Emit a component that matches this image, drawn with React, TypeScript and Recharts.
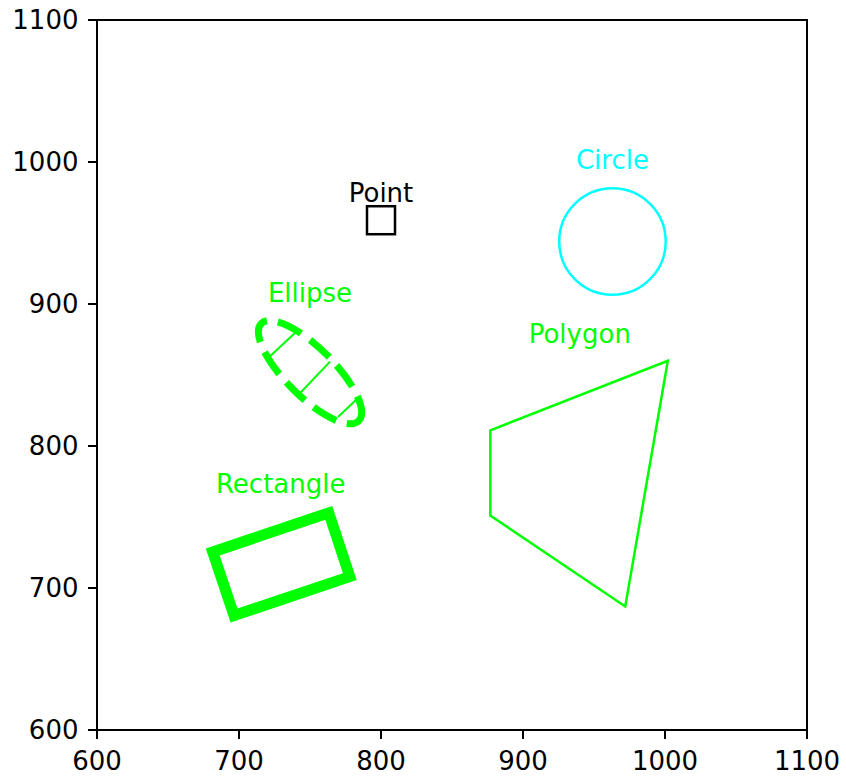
import React from 'react';
import { ComposedChart, Scatter, XAxis, YAxis, ReferenceArea } from 'recharts';

// axis ticks
const X_TICKS = [600, 700, 800, 900, 1000, 1100];
const Y_TICKS = [600, 700, 800, 900, 1000, 1100];

// shapes, data coordinates
const pointPts = [{ x: 800, y: 959 }];
const circleCenter = [{ x: 963, y: 944 }];
const circleRadius = 37.5;
const ellipseCenter = [{ x: 750, y: 852 }];
const ellipseSemiAxes = [48.5, 17];
const ellipseAngle = -45;
const ellipseLine1 = [{ x: 719, y: 860.6 }, { x: 739.4, y: 879.6 }];
const ellipseLine2 = [{ x: 740.6, y: 834.7 }, { x: 764.1, y: 859.4 }];
const ellipseLine3 = [{ x: 769.7, y: 820.4 }, { x: 783.8, y: 833.8 }];
const polygonPts = [
  { x: 877, y: 811 },
  { x: 1002, y: 860 },
  { x: 972, y: 687 },
  { x: 877, y: 751 },
];
const rectanglePts = [
  { x: 681.5, y: 725.4 },
  { x: 763.2, y: 752.9 },
  { x: 778, y: 708 },
  { x: 696.5, y: 680.6 },
];
const labels = [
  { x: 800, y: 972, text: 'Point' },
  { x: 963, y: 995, text: 'Circle' },
  { x: 750, y: 901.6, text: 'Ellipse' },
  { x: 940, y: 872.3, text: 'Polygon' },
  { x: 729.4, y: 766.7, text: 'Rectangle' },
];

const GREEN = '#00ff00';
const CYAN = '#00ffff';
const labelColors: Record<string, string> = {
  Point: '#000000',
  Circle: CYAN,
  Ellipse: GREEN,
  Polygon: GREEN,
  Rectangle: GREEN,
};

const FONT = '"DejaVu Sans", sans-serif';
const W = 846;
const H = 777;
const MARGIN = { top: 20, right: 39, bottom: 0, left: 0 };
const Y_AXIS_W = 97;
const X_AXIS_H = 47;
// pixels per data unit inside the plot area
const PX = (W - MARGIN.left - MARGIN.right - Y_AXIS_W) / (X_TICKS[X_TICKS.length - 1] - X_TICKS[0]);

const noDot = () => <g />;

const CircleShape = (p: any) => (
  <circle cx={p.cx} cy={p.cy} r={circleRadius * PX} fill="none" stroke={CYAN} strokeWidth={2.5} />
);

const EllipseShape = (p: any) => {
  const rx = ellipseSemiAxes[0] * PX;
  const ry = ellipseSemiAxes[1] * PX;
  const { cx, cy } = p;
  const d = `M ${cx + rx} ${cy} A ${rx} ${ry} 0 1 0 ${cx - rx} ${cy} A ${rx} ${ry} 0 1 0 ${cx + rx} ${cy}`;
  return (
    <path
      d={d}
      transform={`rotate(${-ellipseAngle} ${cx} ${cy})`}
      fill="none"
      stroke={GREEN}
      strokeWidth={7}
      strokeDasharray="26 11"
    />
  );
};

const SquareShape = (p: any) => (
  <rect x={p.cx - 14} y={p.cy - 14} width={28} height={28} fill="none" stroke="#000" strokeWidth={2.5} />
);

const LabelShape = (p: any) => (
  <text
    x={p.cx}
    y={p.cy}
    textAnchor="middle"
    fontFamily={FONT}
    fontSize={26}
    fill={labelColors[p.payload.text]}
  >
    {p.payload.text}
  </text>
);

export default function App() {
  const tick = { fill: '#000', fontSize: 26, fontFamily: FONT };
  const axisLine = { stroke: '#000', strokeWidth: 2 };
  return (
    <div style={{ position: 'absolute', left: 0, top: 0 }}>
      <ComposedChart width={W} height={H} margin={MARGIN}>
        <XAxis
          type="number"
          dataKey="x"
          domain={[600, 1100]}
          ticks={X_TICKS}
          allowDataOverflow
          height={X_AXIS_H}
          tick={tick}
          tickSize={9}
          tickMargin={13}
          axisLine={axisLine}
          tickLine={axisLine}
        />
        <YAxis
          type="number"
          dataKey="y"
          domain={[600, 1100]}
          ticks={Y_TICKS}
          allowDataOverflow
          width={Y_AXIS_W}
          tick={tick}
          tickSize={9}
          tickMargin={9.5}
          axisLine={axisLine}
          tickLine={axisLine}
        />
        <ReferenceArea x1={600} x2={1100} y1={600} y2={1100} fill="none" stroke="#000" strokeWidth={2} />
        <Scatter
          data={rectanglePts}
          fill="none"
          shape={noDot}
          line={{ stroke: GREEN, strokeWidth: 11, strokeLinejoin: 'miter' }}
          lineJointType="linearClosed"
          isAnimationActive={false}
        />
        <Scatter
          data={polygonPts}
          fill="none"
          shape={noDot}
          line={{ stroke: GREEN, strokeWidth: 2.5, strokeLinejoin: 'miter' }}
          lineJointType="linearClosed"
          isAnimationActive={false}
        />
        {[ellipseLine1, ellipseLine2, ellipseLine3].map((seg, i) => (
          <Scatter
            key={i}
            data={seg}
            fill="none"
            shape={noDot}
            line={{ stroke: GREEN, strokeWidth: 2 }}
            isAnimationActive={false}
          />
        ))}
        <Scatter data={ellipseCenter} shape={EllipseShape} isAnimationActive={false} />
        <Scatter data={circleCenter} shape={CircleShape} isAnimationActive={false} />
        <Scatter data={pointPts} shape={SquareShape} isAnimationActive={false} />
        <Scatter data={labels} shape={LabelShape} isAnimationActive={false} />
      </ComposedChart>
    </div>
  );
}
